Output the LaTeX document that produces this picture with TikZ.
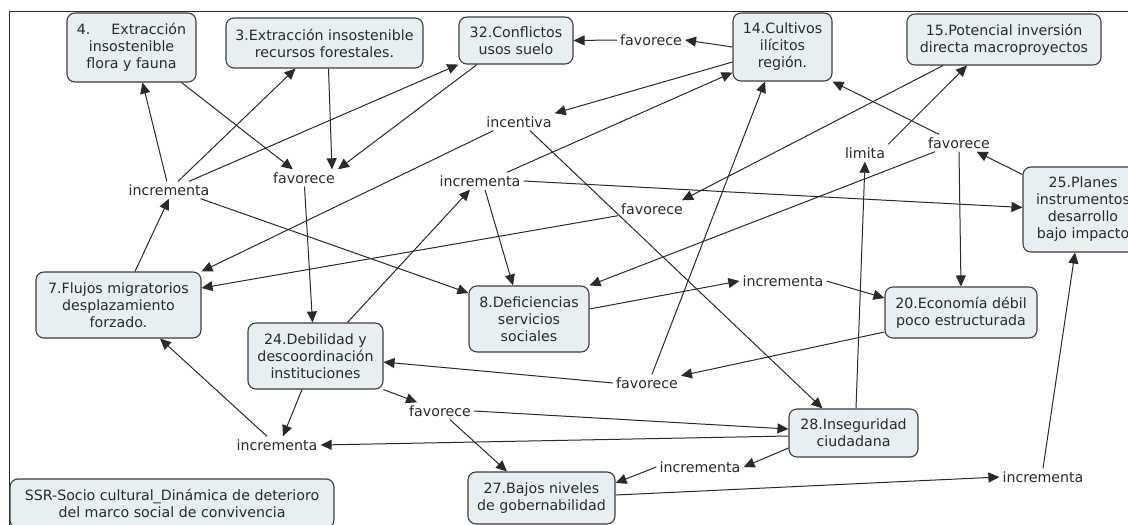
\documentclass[tikz,border=0pt]{standalone}
\usepackage{fontspec}
\setmainfont{DejaVu Sans}
\usetikzlibrary{arrows.meta,calc}
\definecolor{boxfill}{HTML}{E8EFF3}
\definecolor{boxline}{HTML}{3C3C3C}
\definecolor{ink}{HTML}{2A2A2A}
\tikzset{
 box/.style={draw=boxline, line width=1.1pt, fill=boxfill, rounded corners=8pt, align=center, inner sep=0pt, text=ink, font=\fontsize{14.2}{17}\selectfont},
 lab/.style={inner sep=3pt, text=ink, font=\fontsize{14.2}{17}\selectfont},
 arr/.style={draw=ink, line width=1pt, -{Triangle[length=11pt,width=10pt]}},
}
\begin{document}
\begin{tikzpicture}[x=1pt,y=-1pt]
\useasboundingbox (0,0) rectangle (1128,525);
\clip (0,0) rectangle (1128,525);
\fill[white] (0,0) rectangle (1128,525);
\draw[line width=1pt, draw=ink] (9,11) rectangle (1200,600);

% boxes
\node[box, minimum width=129pt, minimum height=69pt] (n4) at (131.5,47.5) {4.\hspace{21pt}Extracción\\insostenible\\flora y fauna};
\node[box, minimum width=197pt, minimum height=50pt] (n3) at (324.5,43) {3.Extracción insostenible\\recursos forestales.};
\node[box, minimum width=114pt, minimum height=47pt] (n32) at (516,40.5) {32.Conflictos\\usos suelo};
\node[box, minimum width=99pt, minimum height=68pt] (n14) at (782.5,47) {14.Cultivos\\ilícitos\\región.};
\node[box, minimum width=194pt, minimum height=51pt] (n15) at (1004,39.5) {15.Potencial inversión\\directa macroproyectos};
\node[box, minimum width=120pt, minimum height=85pt] (n25) at (1083,209.5) {25.Planes\\instrumentos\\desarrollo\\bajo impacto};
\node[box, minimum width=165pt, minimum height=66pt] (n7) at (118.5,305) {7.Flujos migratorios\\desplazamiento\\forzado.};
\node[box, minimum width=135pt, minimum height=66pt] (n24) at (315.5,356) {24.Debilidad y\\descoordinación\\instituciones};
\node[box, minimum width=120pt, minimum height=66pt] (n8) at (529,319) {8.Deficiencias\\servicios\\sociales};
\node[box, minimum width=152pt, minimum height=51pt] (n20) at (961,312.5) {20.Economía débil\\poco estructurada};
\node[box, minimum width=129pt, minimum height=48pt] (n28) at (853.5,433) {28.Inseguridad\\ciudadana};
\node[box, minimum width=147pt, minimum height=52pt] (n27) at (541.5,498) {27.Bajos niveles\\de gobernabilidad};
\node[box, minimum width=324pt, minimum height=49pt] (leg) at (172,503.5) {SSR-Socio cultural\_Dinámica de deterioro\\del marco social de convivencia};

% labels
\node[lab] (inc1) at (169,190) {incrementa};
\node[lab] (fav1) at (304,178) {favorece};
\node[lab] (incentiva) at (519,122) {incentiva};
\node[lab] (inc2) at (480,181) {incrementa};
\node[lab] (fav2) at (652,209) {favorece};
\node[lab] (fav3) at (651,40) {favorece};
\node[lab] (limita) at (865,153) {limita};
\node[lab] (fav4) at (959,143) {favorece};
\node[lab] (inc3) at (783,281) {incrementa};
\node[lab] (fav5) at (647,383) {favorece};
\node[lab] (fav6) at (440,411) {favorece};
\node[lab] (inc4) at (277,445) {incrementa};
\node[lab] (inc5) at (700,467) {incrementa};
\node[lab] (inc6) at (1043,477) {incrementa};

% connectors
\draw[arr] (inc1) -- ($(n4.south)+(11,0)$);
\draw[arr] (inc1) -- ($(n3.south)+(-29,0)$);
\draw[arr] (inc1) -- (n32.south west);
\draw[arr] ($(n4.south)+(50,0)$) -- (fav1);
\draw[arr] ($(n3.south)+(4,0)$) -- ($(fav1.north)+(28,0)$);
\draw[arr] ($(n32.south)+(-39,0)$) -- (fav1.north east);
\draw[arr] (fav1) -- ($(n24.north)+(-3,0)$);
\draw[arr] ($(inc1.south east)+(-12,0)$) -- ($(n8.west)+(0,-26)$);
\draw[arr] ($(incentiva.south west)+(10,0)$) -- (n7.north east);
\draw[arr] ($(fav2.south west)+(0,-2)$) -- ($(n7.east)+(0,-17)$);
\draw[arr] ($(n24.north)+(32,0)$) -- ($(inc2.south)+(-10,0)$);
\draw[arr] ($(inc2.north)+(27,0)$) -- ($(n14.south west)+(0,-9)$);
\draw[arr] ($(n14.west)+(0,15)$) -- (incentiva.north east);
\draw[arr] (inc2.east) -- ($(n25.west)+(0,-2)$);
\draw[arr] ($(inc2.south)+(5,0)$) -- ($(n8.north)+(-16,0)$);
\draw[arr] ($(incentiva.south)+(11,0)$) -- ($(n28.north)+(-31,0)$);
\draw[arr] ($(n15.south)+(-61,0)$) -- ($(fav2.north east)+(-4,0)$);
\draw[arr] ($(fav4.north west)+(14,0)$) -- (n14.south east);
\draw[arr] (limita.north east) -- ($(n15.south)+(-37,0)$);
\draw[arr] ($(fav4.south west)+(10,0)$) -- (n8.north east);
\draw[arr] (fav4.south) -- (n20.north);
\draw[arr] ($(n25.north west)+(0,8)$) -- (fav4);
\draw[arr] ($(n28.north)+(2.5,0)$) -- (limita.south);
\draw[arr] ($(fav5.north)+(5,0)$) -- ($(n14.south)+(-17.5,0)$);
\draw[arr] ($(n8.east)+(0,-10)$) -- (inc3.west);
\draw[arr] (inc3.east) -- ($(n20.west)+(0,-14.5)$);
\draw[arr] ($(n20.west)+(0,19.5)$) -- (fav5);
\draw[arr] (fav5.west) -- ($(n24.east)+(0,6)$);
\draw[arr] (n24.south east) -- (fav6);
\draw[arr] ($(n24.south)+(-13.5,0)$) -- ($(inc4.north)+(6,0)$);
\draw[arr] ($(inc4.north)+(-10,0)$) -- ($(n7.south)+(41.5,0)$);
\draw[arr] ($(n7.north)+(16.5,0)$) -- (inc1.south);
\draw[arr] (fav6.east) -- ($(n28.west)+(0,-4)$);
\draw[arr] ($(n28.west)+(0,3)$) -- (inc4.east);
\draw[arr] ($(fav6.south)+(10,0)$) -- ($(n27.north)+(-34.5,0)$);
\draw[arr] ($(n28.west)+(0,15)$) -- (inc5.east);
\draw[arr] (inc5.west) -- ($(n27.east)+(0,-15)$);
\draw[arr] ($(n27.east)+(0,-3)$) -- (inc6.west);
\draw[arr] (inc6.north) -- ($(n25.south)+(-8,0)$);
\draw[arr] (n14.west) -- (fav3.east);
\draw[arr] (fav3.west) -- (n32.east);
\end{tikzpicture}
\end{document}
